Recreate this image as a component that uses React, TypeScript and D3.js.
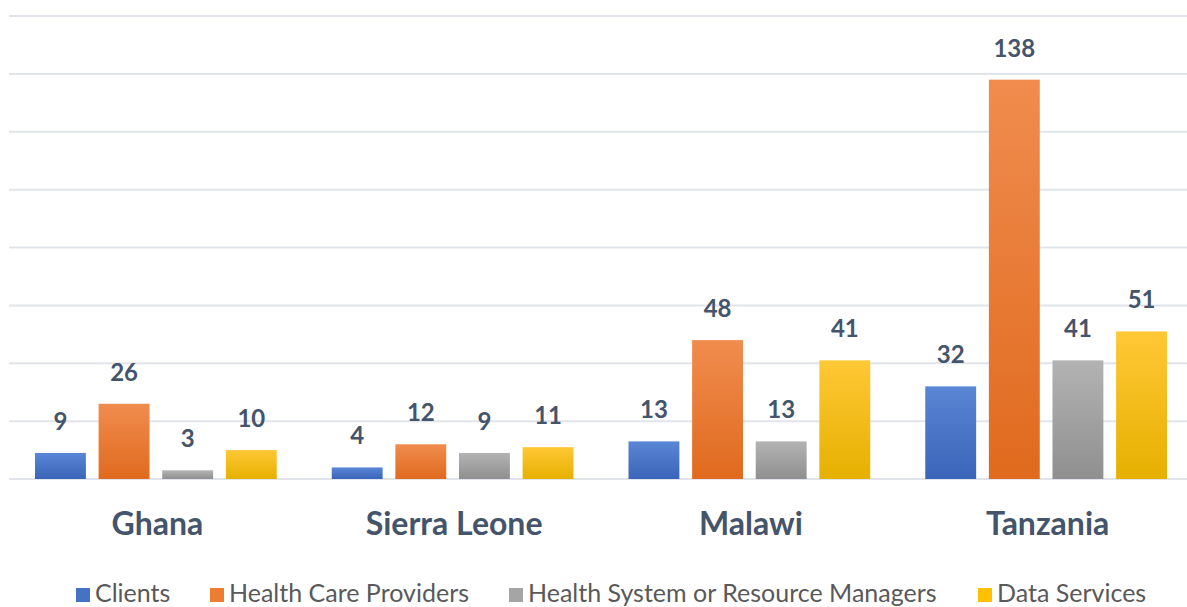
import * as d3 from "d3"

const countries = ["Ghana", "Sierra Leone", "Malawi", "Tanzania"]
const seriesNames = ["Clients", "Health Care Providers", "Health System or Resource Managers", "Data Services"]
const clients = [9, 4, 13, 32]
const providers = [26, 12, 48, 138]
const managers = [3, 9, 13, 41]
const dataServices = [10, 11, 41, 51]
const yTicks = [0, 20, 40, 60, 80, 100, 120, 140, 160]

const colors = ["#4472C4", "#ED7D31", "#A5A5A5", "#FFC000"]
const topColors = ["#5A86D6", "#F08C4E", "#B3B3B3", "#FFC836"]
const bottomColors = ["#3A65B8", "#E06A1E", "#8F8F8F", "#E6B000"]

const W = 1187
const H = 607
const labelColor = "#44546A"
const font = "Lato, 'Open Sans', sans-serif"

const App = () => {
  const values = [clients, providers, managers, dataServices]

  const x0 = d3.scaleBand().domain(countries).range([9, 1196]).padding(0)
  const x1 = d3
    .scaleBand()
    .domain(seriesNames)
    .range([26, x0.bandwidth() - 29])
    .paddingInner(0.2)
    .paddingOuter(0)
  const y = d3.scaleLinear().domain([0, 160]).range([479, 16])

  // legend square x positions
  const legendX = [76, 210, 509, 978]

  return (
    <svg width={W} height={H} style={{ position: "absolute", left: 0, top: 0, background: "#fff" }}>
      <defs>
        {colors.map((c, i) => (
          <linearGradient key={c} id={`grad${i}`} x1="0" y1="0" x2="0" y2="1">
            <stop offset="0%" stopColor={topColors[i]} />
            <stop offset="100%" stopColor={bottomColors[i]} />
          </linearGradient>
        ))}
      </defs>

      {/* gridlines */}
      {yTicks.map((t) => (
        <line key={t} x1={9} x2={W} y1={y(t)} y2={y(t)} stroke="#E1E4EA" strokeWidth={2} />
      ))}

      {countries.map((country, ci) => (
        <g key={country} transform={`translate(${x0(country)},0)`}>
          {seriesNames.map((s, si) => {
            const v = values[si][ci]
            const bx = x1(s)!
            return (
              <g key={s}>
                <rect
                  x={bx}
                  y={y(v)}
                  width={x1.bandwidth()}
                  height={y(0) - y(v)}
                  fill={`url(#grad${si})`}
                />
                <text
                  x={bx + x1.bandwidth() / 2}
                  y={y(v) - 23}
                  textAnchor="middle"
                  fontFamily={font}
                  fontWeight="bold"
                  fontSize={24}
                  fill={labelColor}
                >
                  {v}
                </text>
              </g>
            )
          })}
          <text
            x={x0.bandwidth() / 2}
            y={535}
            textAnchor="middle"
            fontFamily={font}
            fontWeight="bold"
            fontSize={32}
            fill={labelColor}
          >
            {country}
          </text>
        </g>
      ))}

      {/* legend */}
      {seriesNames.map((s, i) => (
        <g key={s} transform={`translate(${legendX[i]},0)`}>
          <rect x={0} y={588} width={14} height={14} fill={colors[i]} />
          <text x={19} y={602} fontFamily={font} fontSize={25} fill="#595959">
            {s}
          </text>
        </g>
      ))}
    </svg>
  )
}

export default App
